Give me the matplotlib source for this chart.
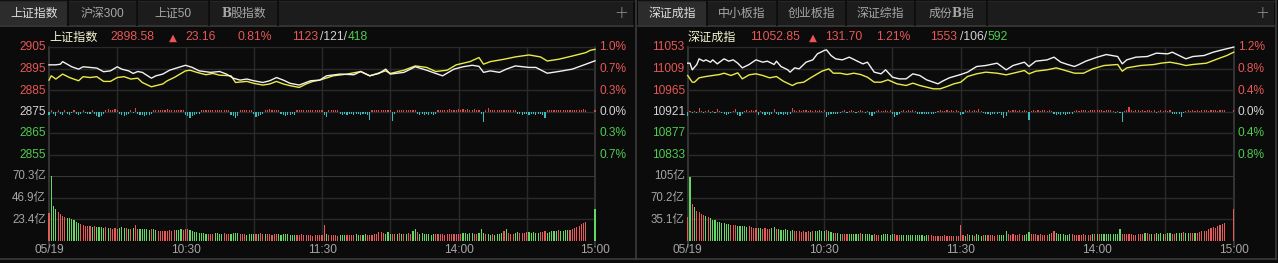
import matplotlib
matplotlib.use("Agg")
import matplotlib.pyplot as plt
from matplotlib.patches import Rectangle

# ======================= DATA =======================
time_labels = ["05/19", "10:30", "11:30", "14:00", "15:00"]
time_label_minutes = [0, 60, 120, 180, 240]

sh_tabs = ["上证指数", "沪深300", "上证50", "B股指数"]
sz_tabs = ["深证成指", "中小板指", "创业板指", "深证综指", "成份B指"]

sh_name, sh_last, sh_change, sh_pct = "上证指数", "2898.58", "23.16", "0.81%"
sh_breadth = ["1123", "121", "418"]
sz_name, sz_last, sz_change, sz_pct = "深证成指", "11052.85", "131.70", "1.21%"
sz_breadth = ["1553", "106", "592"]

sh_price_ticks = [2905, 2895, 2885, 2875, 2865, 2855]
sh_pct_ticks = ["1.0%", "0.7%", "0.3%", "0.0%", "0.3%", "0.7%"]
sh_vol_max = 70.3
sh_vol_ticks = ["70.3亿", "46.9亿", "23.4亿"]

sz_price_ticks = [11053, 11009, 10965, 10921, 10877, 10833]
sz_pct_ticks = ["1.2%", "0.8%", "0.4%", "0.0%", "0.4%", "0.8%"]
sz_vol_max = 105.3
sz_vol_ticks = ["105亿", "70.2亿", "35.1亿"]

# --- Shanghai lines (minute index, value) ---
sh_white_t = [0, 3, 5, 6, 8, 10, 13, 15, 18, 21, 24, 27, 30, 32, 35, 37, 39, 41, 45, 47, 50, 53, 56, 60,
              63, 66, 71, 75, 78, 81, 84, 87, 90, 94, 97, 100, 103, 106, 110, 112, 115, 119, 122, 128,
              134, 137, 141, 145, 148, 150, 156, 161, 166, 170, 173, 178, 182, 186, 189, 191, 194, 198,
              201, 205, 211, 214, 219, 224, 230, 236, 240]
sh_white_v = [2896.7, 2896.7, 2897.0, 2898.2, 2897.0, 2895.8, 2894.7, 2895.8, 2895.5, 2895.2, 2893.5,
              2893.9, 2895.8, 2894.7, 2893.9, 2892.7, 2893.6, 2893.2, 2890.5, 2891.6, 2892.4, 2894.2,
              2895.2, 2896.5, 2895.5, 2893.9, 2893.2, 2893.6, 2892.4, 2890.5, 2889.6, 2890.1, 2889.3,
              2888.5, 2889.3, 2890.8, 2889.6, 2888.1, 2887.3, 2888.1, 2889.3, 2889.6, 2891.6, 2892.4,
              2892.1, 2893.6, 2891.6, 2892.7, 2894.7, 2892.4, 2893.2, 2895.8, 2894.2, 2892.7, 2891.6,
              2894.7, 2895.8, 2896.5, 2896.0, 2893.2, 2893.9, 2893.2, 2894.7, 2896.2, 2895.5, 2895.5,
              2892.8, 2893.6, 2894.7, 2897.0, 2898.58]
sh_yellow_t = [0, 1, 3, 6, 9, 13, 15, 18, 21, 24, 27, 30, 33, 36, 39, 41, 45, 50, 52, 55, 60, 62, 65, 69,
               72, 75, 80, 82, 87, 90, 94, 97, 100, 103, 106, 110, 113, 116, 119, 125, 131, 137, 141,
               148, 150, 156, 161, 166, 170, 175, 179, 185, 189, 191, 194, 200, 205, 211, 216, 219, 224,
               230, 236, 238, 240]
sh_yellow_v = [2889.6, 2891.6, 2890.1, 2892.4, 2890.8, 2889.3, 2891.2, 2890.8, 2891.2, 2889.0, 2889.0,
               2890.8, 2891.2, 2890.1, 2890.5, 2888.5, 2886.5, 2887.8, 2889.3, 2890.8, 2893.9, 2894.2,
               2893.2, 2892.1, 2892.7, 2891.9, 2891.6, 2888.5, 2889.0, 2888.1, 2887.3, 2887.8, 2889.0,
               2887.8, 2887.0, 2886.2, 2887.8, 2889.0, 2889.6, 2891.6, 2892.4, 2893.6, 2891.6, 2893.9,
               2892.7, 2894.2, 2896.2, 2895.5, 2893.6, 2894.2, 2896.7, 2898.2, 2900.1, 2897.0, 2898.2,
               2899.3, 2900.4, 2901.3, 2900.4, 2898.5, 2899.3, 2900.8, 2902.4, 2903.5, 2903.9]

# --- Shenzhen lines ---
sz_white_t = [0, 1, 2, 4, 5, 7, 8, 10, 11, 13, 16, 18, 20, 22, 24, 27, 30, 33, 35, 38, 39, 41, 44, 45, 47,
              49, 52, 55, 57, 60, 61, 63, 65, 68, 71, 74, 77, 79, 82, 85, 87, 90, 93, 96, 99, 102, 105,
              108, 110, 112, 115, 120, 123, 127, 131, 136, 140, 143, 148, 150, 153, 158, 161, 164, 167,
              170, 172, 175, 180, 184, 189, 191, 193, 197, 202, 206, 211, 213, 216, 219, 222, 227, 231,
              235, 240]
sz_white_v = [11019.9, 11019.9, 11006.3, 11017.2, 11028.8, 11024.0, 11026.7, 11021.9, 11026.7, 11018.5,
              11028.8, 11024.0, 11026.7, 11019.9, 11010.3, 11017.2, 11026.7, 11021.9, 11024.0, 11017.2,
              11024.0, 11013.1, 11006.3, 11001.5, 11010.3, 11008.3, 11021.9, 11026.7, 11039.0, 11045.8,
              11047.2, 11035.6, 11028.8, 11026.7, 11032.2, 11025.3, 11018.5, 11021.9, 11001.5, 10998.1,
              11006.3, 10991.2, 10987.8, 10987.8, 10998.1, 10994.7, 10985.8, 10981.0, 10977.6, 10983.1,
              10989.9, 10996.7, 11001.5, 11013.1, 11015.1, 11019.9, 11006.3, 11015.1, 11021.9, 11013.1,
              11024.0, 11026.7, 11032.2, 11021.9, 11017.2, 11013.1, 11017.2, 11024.0, 11032.2, 11037.6,
              11033.5, 11018.5, 11026.7, 11032.2, 11033.5, 11040.4, 11039.0, 11042.4, 11035.6, 11028.8,
              11033.5, 11035.6, 11042.4, 11047.2, 11052.85]
sz_yellow_t = [0, 2, 3, 5, 8, 11, 14, 16, 19, 22, 24, 27, 30, 33, 36, 39, 42, 46, 48, 51, 54, 57, 59, 62,
               64, 67, 70, 73, 76, 79, 82, 85, 88, 92, 96, 99, 102, 105, 108, 111, 114, 117, 120, 123,
               127, 131, 136, 140, 145, 148, 150, 153, 158, 162, 165, 170, 174, 178, 183, 189, 191, 193,
               199, 205, 208, 212, 216, 219, 222, 228, 233, 237, 240]
sz_yellow_v = [10994.7, 10981.0, 10981.0, 10989.9, 10992.6, 10994.7, 10996.7, 10999.4, 10994.7, 11000.1,
               10987.8, 10996.0, 10998.1, 10994.7, 10989.9, 10992.6, 10983.1, 10974.2, 10979.0, 10981.0,
               10989.9, 10998.1, 11003.5, 11008.3, 10999.4, 10999.4, 10996.7, 10999.4, 10996.7, 10991.2,
               10981.0, 10981.0, 10985.8, 10977.6, 10974.2, 10979.0, 10974.2, 10970.8, 10967.4, 10967.4,
               10972.2, 10977.6, 10981.0, 10992.6, 10998.1, 11001.5, 10999.4, 10996.0, 11001.5, 11004.9,
               10998.1, 11003.5, 11006.3, 11010.3, 11006.3, 10999.4, 10999.4, 11008.3, 11015.1, 11017.2,
               11003.5, 11010.3, 11015.1, 11017.2, 11019.9, 11021.9, 11018.5, 11015.1, 11017.2, 11019.9,
               11028.8, 11035.6, 11042.4]

# --- per-minute volume (亿), 241 minutes ---
sh_volume = sum([
    [30, 70.3, 38, 34, 31, 29, 27, 26, 25, 24],
    [23, 22.5, 20, 19, 18, 17, 16, 16, 16, 15],
    [16, 15, 15, 15, 14, 15, 14, 14, 13, 14],
    [13, 14, 15, 14, 14, 13, 12, 14, 16.4, 13],
    [12, 12, 12, 12, 11, 12, 12, 11, 10, 10],
    [10, 10, 10, 11, 10, 11, 11, 11, 12, 11],
    [12, 13, 11, 10, 9, 9, 8, 8, 8, 7],
    [7, 7, 7, 8, 8, 7, 7, 8, 7, 7],
    [7, 8, 8, 8, 7, 7, 7, 6, 7, 7],
    [7, 7, 7, 8, 7, 7, 7, 7, 6, 7],
    [7, 7, 6, 7, 7, 7, 6, 6, 6, 6],
    [6, 7, 6, 6, 6, 6, 5, 6, 6, 6],
    [6, 16.4, 7, 6, 6, 6, 6, 5, 6, 6],
    [6, 6, 6, 6, 6, 7, 6, 6, 6, 7],
    [6, 6, 6, 7, 7, 9, 9, 8, 7, 9],
    [7, 7, 7, 7, 8, 7, 7, 7, 8, 7],
    [10, 12, 9, 7, 8, 7, 7, 7, 6, 7],
    [7, 7, 7, 7, 6, 7, 7, 7, 7, 7],
    [7, 7, 8, 8, 7, 8, 8, 7, 7, 8],
    [12, 8, 7, 7, 6, 7, 6, 7, 7, 8],
    [10, 12, 8, 7, 7, 8, 9, 8, 8, 8],
    [9, 9, 8, 9, 8, 8, 9, 9, 10, 8],
    [9, 10, 10, 10, 11, 10, 10, 11, 11, 11],
    [13, 14, 15, 16, 18, 19, 20, 0, 0, 0],
    [34.6]], [])
sh_vol_colors = "".join([
    "rgggrrrrgg", "ggggrrrrrg", "rggggrgrrr", "rgggrgrgrr", "gggggrggrr", "rrrrrrgggr",
    "rrgggggggg", "rrrggggrrr", "ggggrrrggg", "grgrrgrrrr", "rggggggggr", "rrrrrrrrrr",
    "rrgrrrrrgg", "grrrrggrgg", "rrrrrrrrgg", "grrgrgrgrr", "ggrggggggg", "rrrrrrrrrr",
    "rrgggggrrg", "ggrggrgggg", "rgrrrggrrr", "rgggggrrrg", "ggggrggggr", "rrrrrrrrrr", "g"])

sz_volume = sum([
    [38, 103, 60, 54, 48, 46, 43, 42, 40, 38],
    [36, 34, 33, 31, 30, 29, 28, 27, 27, 26],
    [26, 25, 24, 24, 23, 23, 22, 23, 22, 21],
    [20, 21, 20, 19, 20, 19, 18, 20, 22, 19],
    [18, 17, 17, 18, 17, 16, 17, 16, 15, 15],
    [14, 15, 14, 15, 14, 15, 16, 15, 17, 16],
    [15, 17, 16, 14, 13, 12, 12, 11, 11, 11],
    [10, 10, 11, 10, 10, 10, 12, 11, 11, 10],
    [10, 9, 10, 9, 9, 9, 10, 10, 10, 9],
    [10, 10, 9, 9, 9, 9, 9, 9, 9, 9],
    [9, 9, 9, 9, 8, 9, 9, 9, 8, 8],
    [8, 8, 8, 9, 8, 8, 7, 8, 8, 8],
    [25, 9, 8, 10, 9, 9, 8, 10, 9, 8],
    [9, 9, 9, 9, 9, 8, 9, 9, 9, 9],
    [15, 10, 9, 10, 9, 9, 10, 9, 9, 10],
    [14, 11, 10, 10, 9, 10, 9, 9, 9, 10],
    [12, 15, 12, 10, 10, 10, 9, 9, 10, 10],
    [9, 9, 9, 9, 10, 9, 9, 9, 10, 10],
    [11, 10, 10, 10, 10, 11, 10, 10, 11, 11],
    [18, 11, 10, 11, 10, 10, 9, 9, 10, 10],
    [11, 12, 13, 10, 11, 10, 12, 11, 13, 10],
    [11, 12, 12, 10, 11, 12, 12, 12, 14, 12],
    [13, 12, 12, 13, 13, 14, 15, 16, 15, 18],
    [20, 22, 21, 23, 25, 27, 29, 0, 0, 0],
    [51.7]], [])
sz_vol_colors = "".join([
    "rgrgrrrrgr", "gggggggggr", "rrgggggrrr", "rggrrrrggr", "gggggggrrr", "rrrrgrgggg",
    "grgggrggrr", "rgggggrggg", "ggrrrggggg", "grrrgggggg", "ggggggrrrr", "rrrrrrrrrr",
    "rrgrggrggg", "rgrrrrrggg", "grrrrrrrgg", "grrrrrrrrg", "rrgggggggr", "rrrrrrrrgr",
    "grgggggggg", "grrrrrrrrr", "rgrrgrgggg", "rggrrgggrg", "grrgrrrrrr", "rrrrrrrrrr", "r"])

# --- per-minute lead-indicator bars (index points, + red / - cyan) ---
sh_lead = sum([
    [-1.5, 0.5, -1, -2, 0.5, -1, -1.5, 0.8, -1, -1.5],
    [-0.5, 0.5, -1, -1.5, -1, 0.5, -0.5, -1, -1, 0.5],
    [-1, -2, -2.5, -2, -1, 0.8, 1, 0.6, 0.8, 1],
    [0.5, -1, -1.5, -2, -1.5, -1, 0.5, -0.5, 1.5, -1],
    [-1.5, -1.5, -2, -1.5, -1.5, -1, 0.6, 0.5, 0.8, 0.6],
    [0.6, 0.8, 1, 0.8, 0.6, 0.8, 0.6, 0.5, 0.6, 0.5],
    [-1.5, -2, -3, -2, -1.5, -1, -1, 0.5, 0.6, 0.5],
    [0.6, 0.8, 0.6, 0.5, 0.6, 0.5, 0.6, 0.8, 0.5, 0.6],
    [-1.5, -2, -3, -2, 0.5, 0.6, 0.8, 0.5, 0.6, 0.5],
    [-1, -2.5, -2, -1.5, -1, 0.6, 0.8, 1, 0.8, 0.6],
    [0.8, 0.6, -1, -1.5, -2, -1.5, -1.5, -1, -1.5, 0.5],
    [0.6, 0.5, 0.8, 0.6, 0.5, 0.6, 0.8, 0.6, 0.5, 0.6],
    [0.6, -1.5, -2.5, 0.6, 0.8, 0.5, 0.6, 0.8, -1, -1.5],
    [-1, -1.5, -1, -1, -1.5, -1, -1, -1.5, -1, -1],
    [-1.5, -4, 0.6, 0.8, 0.6, 0.5, 0.8, 0.6, 0.5, 0.6],
    [0.5, -4.5, -1, 0.6, 0.8, 0.6, 0.5, 0.6, 0.8, 0.6],
    [0.5, 0.6, -1, -1.5, -1, -1.5, -1, -1.5, -1, -1.5],
    [-1, 0.6, 0.8, 0.6, 0.5, 0.8, 1, 0.8, 0.6, 0.8],
    [1, 0.8, 1, 0.8, 1, 0.6, 0.8, 1, 0.8, 0.6],
    [-1, -5, 0.5, 1.8, 0.6, 0.8, 0.6, 0.5, 0.8, 0.6],
    [0.5, 0.8, 0.6, 0.5, 0.6, 0.5, -1, -1, -1.5, -1],
    [-1, -1.5, -1, -1, -1.5, -1, -1, -1.5, -3, 0.5],
    [0.6, 0.5, 0.6, 0.8, 0.6, 0.5, 0.6, 0.8, 0.6, 0.5],
    [0.8, 0.6, 0.8, 0.6, 0.8, 1, 0.8, 0, 0, 0],
    [0.8]], [])
sz_lead = sum([
    [-10, 2, -4, 2, -3, 8, 2, -3, 2, 3],
    [-3, 2, -4, 5, 2, -3, -6, -8, -6, -4],
    [2, 6, -8, -10, -6, 2, 3, 2, 3, 2],
    [3, -8, 2, -6, -8, -6, -8, -5, 5, -6],
    [-8, -6, -8, -6, -8, -5, 8, 3, 2, 3],
    [2, 3, 4, 2, 3, 2, 3, 2, 3, 2],
    [3, -12, -8, -6, -5, -6, -5, -3, 2, 3],
    [-3, 2, 3, 2, -3, 2, 3, 2, -3, 2],
    [-8, -10, -6, 2, 3, 2, 2, 3, 2, 3],
    [-6, -12, -8, -6, 2, 3, 2, 3, 2, 3],
    [2, -6, -5, -6, -5, -6, -5, -6, -5, -4],
    [2, 3, 2, 2, 3, 2, 3, 2, 3, 2],
    [-8, -6, 3, 2, 3, 2, 3, 2, 6, 2],
    [-4, -6, -5, -8, -6, -5, -6, -4, -8, -14],
    [-10, 3, 2, 3, 4, 2, 3, 2, 3, 2],
    [-18, 2, 3, 2, 3, 2, 4, 3, 2, 3],
    [2, -6, -8, -6, -8, -6, -8, -6, -5, -6],
    [2, 3, 2, 3, 4, 3, 2, 3, 4, 3],
    [3, 4, 3, 2, 3, 4, 3, 2, -3, 2],
    [-4, -22, 2, 3, 9, 3, 2, 3, 4, 2],
    [3, 2, 4, 3, 2, 3, -3, 2, 3, 2],
    [3, 2, 3, -5, -6, -5, -6, -12, -4, 2],
    [3, 2, 3, 2, 3, 2, 3, 4, 3, 2],
    [3, 4, 3, 2, 3, 4, 3, 0, 0, 0],
    [3]], [])

# ======================= STYLE =======================
W, H = 1278, 263
BG = "#0b0b0b"
TXT_RED = "#e95656"
TXT_GREEN = "#4fcb4f"
TXT_GREY = "#a6a6a6"
TXT_WHITE = "#d2d2d2"
BAR_RED = "#e65a5a"
BAR_GREEN = "#63d863"
LEAD_RED = "#d44d4d"
LEAD_CYAN = "#38bdbd"
GRID = "#2a2a2a"
SEP = "#3c3c3c"
LINE_WHITE = "#f2f2f2"
LINE_YELLOW = "#eaea48"

plt.rcParams["font.family"] = ["Liberation Sans", "Noto Sans CJK SC", "DejaVu Sans"]

fig = plt.figure(figsize=(W / 100, H / 100), dpi=100)
fig.patch.set_facecolor(BG)
bg = fig.add_axes([0, 0, 1, 1])
bg.set_xlim(0, W)
bg.set_ylim(H, 0)
bg.axis("off")


def px_axes(x0, y0, x1, y1):
    a = fig.add_axes([x0 / W, 1 - y1 / H, (x1 - x0) / W, (y1 - y0) / H])
    a.set_facecolor("none")
    a.set_xticks([])
    a.set_yticks([])
    for s in a.spines.values():
        s.set_visible(False)
    return a


def tab_label(nm, cx, col):
    """Tab caption; a Latin 'B' is drawn in bold serif like the original."""
    fs = 8.6
    if "B" not in nm:
        bg.text(cx, 13.5, nm, ha="center", va="center", fontsize=fs, color=col)
        return
    pre, post = nm.split("B")
    total = 11.9 * (len(pre) + len(post)) + 9
    x = cx - total / 2
    if pre:
        bg.text(x, 13.5, pre, ha="left", va="center", fontsize=fs, color=col)
        x += 11.9 * len(pre) - 0.5
    bg.text(x, 13.5, "B", ha="left", va="center", fontsize=fs, color=col,
            family=["DejaVu Serif"], weight="bold")
    x += 9.5
    bg.text(x, 13.5, post, ha="left", va="center", fontsize=fs, color=col)


def draw_tabs(x_start, x_end, edges, names):
    bg.add_patch(Rectangle((x_start, 1), x_end - x_start, 24, color="#1c1c1c", lw=0))
    bg.add_patch(Rectangle((edges[0], 1), edges[1] - edges[0], 24, color="#2c2c2c", lw=0))
    bg.plot([x_start, x_end], [25.5, 25.5], color=SEP, lw=1.2)
    bg.plot([x_start, x_end], [0.6, 0.6], color="#262626", lw=1)
    for e in edges[1:]:
        bg.plot([e, e], [1, 25], color="#0e0e0e", lw=1.4)
    for i, nm in enumerate(names):
        cx = (edges[i] + edges[i + 1]) / 2
        tab_label(nm, cx, "#dedede" if i == 0 else TXT_GREY)
    bg.text(x_end - 12, 12.5, "+", ha="center", va="center", fontsize=12, color="#9a9a9a",
            family=["DejaVu Sans"], weight="light")


def draw_panel(off, name, last, change, pct, breadth, hdr_x, ticks, pct_labels, wt, wv, yt, yv,
               lead, vol, vcol, vmax, vlabels):
    X0, X1 = 49 + off, 595 + off
    YT, YM, YB = 47, 176, 240.5
    step_px = (YM - YT) / 6.0

    # header
    fs = 8.7
    bg.text(X0, 37.5, name, ha="left", va="center", fontsize=fs, color="#f3f3cf")
    bg.text(hdr_x[0], 37.5, last, ha="left", va="center", fontsize=fs, color=TXT_RED)
    bg.text(hdr_x[1], 37.5, "▲", ha="left", va="center", fontsize=7.5, color=TXT_RED,
            family=["DejaVu Sans"])
    bg.text(hdr_x[2], 37.5, change, ha="left", va="center", fontsize=fs, color=TXT_RED)
    bg.text(hdr_x[3], 37.5, pct, ha="left", va="center", fontsize=fs, color=TXT_RED)
    bg.text(hdr_x[4], 37.5, breadth[0], ha="left", va="center", fontsize=fs, color=TXT_RED)
    bg.text(hdr_x[5], 37.5, "/" + breadth[1] + "/", ha="left", va="center", fontsize=fs,
            color=TXT_WHITE)
    bg.text(hdr_x[6], 37.5, breadth[2], ha="left", va="center", fontsize=fs, color=TXT_GREEN)

    # price axes and volume axes
    ax = px_axes(X0, YT, X1, YM)
    hi, lo = ticks[0], ticks[-1] - (ticks[-2] - ticks[-1])
    ax.set_ylim(lo, hi)
    ax.set_xlim(0, 240)
    av = px_axes(X0, YM, X1, YB)
    av.set_ylim(0, vmax)
    av.set_xlim(0, 240)

    for a in (ax, av):
        for m in range(30, 240, 30):
            a.axvline(m, color=GRID, lw=1, zorder=0)
    for tk in ticks:
        ax.axhline(tk, color=GRID, lw=1, zorder=0)
    for k in (1, 2):
        av.axhline(vmax * k / 3, color=GRID, lw=1, zorder=0)
    av.axhline(vmax, color=SEP, lw=1.3, zorder=0)

    # border verticals
    bg.plot([X0, X0], [YT, 247], color=SEP, lw=1.2)
    bg.plot([X1, X1], [YT, 247], color=SEP, lw=1.2)

    base = ticks[3]
    minutes = list(range(len(lead)))
    lc = [LEAD_RED if v >= 0 else LEAD_CYAN for v in lead]
    ax.bar(minutes, lead, bottom=base, width=0.5, color=lc, lw=0, clip_on=False, zorder=2)
    ax.plot(wt, wv, color=LINE_WHITE, lw=1.0, zorder=4, clip_on=False)
    ax.plot(yt, yv, color=LINE_YELLOW, lw=1.0, zorder=3, clip_on=False)

    vc = [BAR_RED if c == "r" else BAR_GREEN for c in vcol]
    av.bar(list(range(len(vol))), vol, width=0.5, color=vc, lw=0, clip_on=False, zorder=2)

    # price & percent labels
    for i, tk in enumerate(ticks):
        y = YT + i * step_px
        col = TXT_RED if i < 3 else (TXT_WHITE if i == 3 else TXT_GREEN)
        bg.text(X0 - 3, y + 0.5, str(tk), ha="right", va="center", fontsize=8.6, color=col)
        bg.text(X1 + 4, y + 0.5, pct_labels[i], ha="left", va="center", fontsize=8.6, color=col)
    for i, lab in enumerate(vlabels):
        y = YM + i * (YB - YM) / 3
        bg.text(X0 - 3, y + 0.5, lab, ha="right", va="center", fontsize=8.3, color=TXT_GREY)
    for lab, m in zip(time_labels, time_label_minutes):
        x = X0 + (X1 - X0) * m / 240
        bg.text(x, 250, lab, ha="center", va="center", fontsize=8.6, color=TXT_GREY)


draw_tabs(0, 633, [0, 68, 137, 209, 278], sh_tabs)
draw_tabs(638, 1274, [638, 707, 777, 846, 915, 987], sz_tabs)

draw_panel(0, sh_name, sh_last, sh_change, sh_pct, sh_breadth,
           [110, 169, 185, 237, 292, 320, 348],
           sh_price_ticks, sh_pct_ticks, sh_white_t, sh_white_v, sh_yellow_t, sh_yellow_v,
           sh_lead, sh_volume, sh_vol_colors, sh_vol_max, sh_vol_ticks)
draw_panel(638.7, sz_name, sz_last, sz_change, sz_pct, sz_breadth,
           [750, 809, 825, 876, 930, 960, 988],
           sz_price_ticks, sz_pct_ticks, sz_white_t, sz_white_v, sz_yellow_t, sz_yellow_v,
           sz_lead, sz_volume, sz_vol_colors, sz_vol_max, sz_vol_ticks)

# frame separators
bg.plot([635.5, 635.5], [0, 259], color=SEP, lw=1.2)
bg.plot([1275.5, 1275.5], [0, 259], color=SEP, lw=1.2)
bg.plot([0, 1276], [258.5, 258.5], color=SEP, lw=1.2)

fig.savefig("out.png", dpi=100, facecolor=BG)
